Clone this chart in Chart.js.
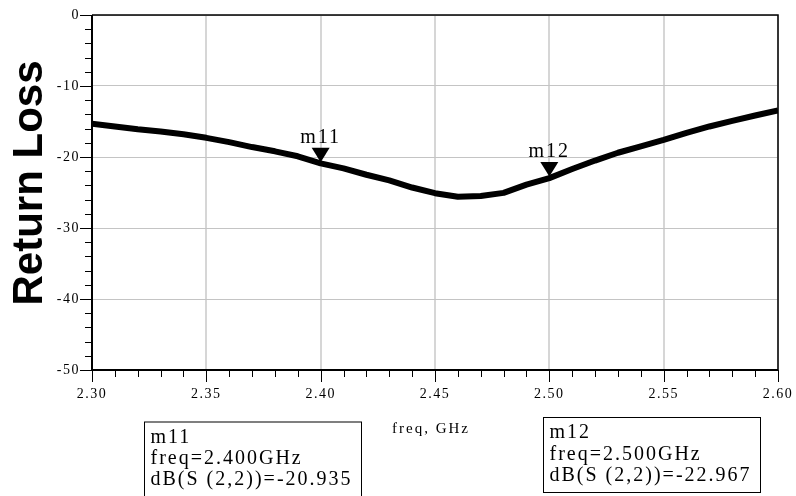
<!DOCTYPE html>
<html>
<head>
<meta charset="utf-8">
<script src="https://cdn.jsdelivr.net/npm/chart.js@4"></script>
<style>
  html, body { margin: 0; padding: 0; background: #fff; }
  #wrap { width: 796px; height: 496px; }
</style>
</head>
<body>
<div id="wrap"><canvas id="rl" width="796" height="496"></canvas></div>
<script>
// S(2,2) sweep
const freqGHz = [2.30, 2.31, 2.32, 2.33, 2.34, 2.35, 2.36, 2.37, 2.38, 2.39, 2.40,
                 2.41, 2.42, 2.43, 2.44, 2.45, 2.46, 2.47, 2.48, 2.49, 2.50,
                 2.51, 2.52, 2.53, 2.54, 2.55, 2.56, 2.57, 2.58, 2.59, 2.60];
const returnLossDb = [-15.3, -15.7, -16.1, -16.4, -16.8, -17.3, -17.9, -18.6, -19.2, -19.9, -20.9,
                      -21.6, -22.5, -23.3, -24.3, -25.1, -25.6, -25.5, -25.05, -23.9, -22.97,
                      -21.7, -20.5, -19.4, -18.5, -17.6, -16.6, -15.7, -14.9, -14.15, -13.45];

const xTicks = [2.30, 2.35, 2.40, 2.45, 2.50, 2.55, 2.60];
const yTicks = [0, -10, -20, -30, -40, -50];

const markerNames = ["m11", "m12"];
const markerFreq = [2.40, 2.50];
const markerDb = [-20.935, -22.967];

const SERIF = '"Liberation Serif", "Times New Roman", serif';

function setSpacing(ctx, px) {
  if ("letterSpacing" in ctx) ctx.letterSpacing = px + "px";
}

const adsPlugin = {
  id: "adsPlot",
  beforeDraw(chart) {
    setSpacing(chart.ctx, 1.5);
  },
  afterDatasetsDraw(chart) {
    const ctx = chart.ctx;
    const xs = chart.scales.x, ys = chart.scales.y;
    ctx.save();
    ctx.fillStyle = "#000";
    markerNames.forEach((name, i) => {
      const px = xs.getPixelForValue(markerFreq[i]);
      const py = ys.getPixelForValue(markerDb[i]);
      ctx.beginPath();
      ctx.moveTo(px, py - 1.5);
      ctx.lineTo(px - 9, py - 16);
      ctx.lineTo(px + 9, py - 16);
      ctx.closePath();
      ctx.fill();
      setSpacing(ctx, 2);
      ctx.font = "20px " + SERIF;
      ctx.textAlign = "center";
      ctx.textBaseline = "alphabetic";
      ctx.fillText(name, px, py - 21);
    });
    ctx.restore();
  },
  afterDraw(chart) {
    const ctx = chart.ctx;
    const a = chart.chartArea;
    const xs = chart.scales.x, ys = chart.scales.y;
    ctx.save();
    ctx.strokeStyle = "#000";

    // frame
    ctx.lineWidth = 1.5;
    ctx.beginPath();
    ctx.moveTo(a.left, a.top); ctx.lineTo(a.right, a.top); ctx.lineTo(a.right, a.bottom);
    ctx.stroke();
    ctx.lineWidth = 2;
    ctx.beginPath();
    ctx.moveTo(a.left, a.top); ctx.lineTo(a.left, a.bottom); ctx.lineTo(a.right, a.bottom);
    ctx.stroke();

    // major + minor tick marks, outside the frame
    ctx.lineWidth = 1;
    ctx.beginPath();
    for (let i = 0; i <= 30; i++) {
      const px = Math.round(xs.getPixelForValue(2.30 + i * 0.01)) + 0.5;
      const len = i % 5 === 0 ? 12 : 7;
      ctx.moveTo(px, a.bottom);
      ctx.lineTo(px, a.bottom + len);
    }
    for (let v = 0; v >= -50; v -= 2) {
      const py = Math.round(ys.getPixelForValue(v)) + 0.5;
      const len = v % 10 === 0 ? 12 : 7;
      ctx.moveTo(a.left, py);
      ctx.lineTo(a.left - len, py);
    }
    ctx.stroke();

    // y title
    setSpacing(ctx, 0);
    ctx.fillStyle = "#000";
    ctx.save();
    ctx.translate(42, 183);
    ctx.rotate(-Math.PI / 2);
    ctx.font = 'bold 42px "Liberation Sans", Arial, sans-serif';
    ctx.textAlign = "center";
    ctx.textBaseline = "alphabetic";
    ctx.fillText("Return Loss", 0, 0);
    ctx.restore();

    // x title
    setSpacing(ctx, 2);
    ctx.font = "15px " + SERIF;
    ctx.textAlign = "center";
    ctx.textBaseline = "middle";
    ctx.fillText("freq, GHz", 431, 429);

    // marker readout boxes
    const boxes = [
      { x: 144.5, y: 422, w: 217, h: 80 },
      { x: 543.5, y: 417.5, w: 217, h: 75 }
    ];
    ctx.font = "20px " + SERIF;
    ctx.textAlign = "left";
    ctx.lineWidth = 1;
    boxes.forEach((b, i) => {
      ctx.strokeRect(b.x, b.y, b.w, b.h);
      const lines = [
        markerNames[i],
        "freq=" + markerFreq[i].toFixed(3) + "GHz",
        "dB(S (2,2))=" + markerDb[i].toFixed(3)
      ];
      lines.forEach((t, k) => ctx.fillText(t, b.x + 6, b.y + 15.5 + k * 21.3));
    });

    ctx.restore();
    setSpacing(ctx, 0);
  }
};

new Chart(document.getElementById("rl"), {
  type: "line",
  data: {
    datasets: [{
      data: freqGHz.map((f, i) => ({ x: f, y: returnLossDb[i] })),
      borderColor: "#000",
      borderWidth: 6,
      pointRadius: 0,
      tension: 0,
      borderJoinStyle: "round",
      fill: false
    }]
  },
  options: {
    responsive: false,
    animation: false,
    devicePixelRatio: 1,
    layout: { padding: { top: 15, right: 18, bottom: 0, left: 0 } },
    plugins: { legend: { display: false }, tooltip: { enabled: false } },
    scales: {
      x: {
        type: "linear",
        min: 2.30,
        max: 2.60,
        afterBuildTicks: (s) => { s.ticks = xTicks.map(v => ({ value: v })); },
        afterFit: (s) => { s.height = 126; s.paddingLeft = 0; s.paddingRight = 0; },
        border: { display: false },
        grid: { color: "#d6d6d6", lineWidth: 2, drawTicks: false },
        ticks: {
          padding: 16,
          color: "#000",
          font: { family: SERIF, size: 14 },
          callback: (v) => Number(v).toFixed(2)
        }
      },
      y: {
        type: "linear",
        min: -50,
        max: 0,
        afterBuildTicks: (s) => { s.ticks = yTicks.map(v => ({ value: v })); },
        afterFit: (s) => { s.width = 92; s.paddingTop = 0; s.paddingBottom = 0; },
        border: { display: false },
        grid: { color: "#c4c4c4", lineWidth: 1, drawTicks: false },
        ticks: {
          padding: 12,
          color: "#000",
          font: { family: SERIF, size: 14 },
          callback: (v) => String(v)
        }
      }
    }
  },
  plugins: [adsPlugin]
});
</script>
</body>
</html>
